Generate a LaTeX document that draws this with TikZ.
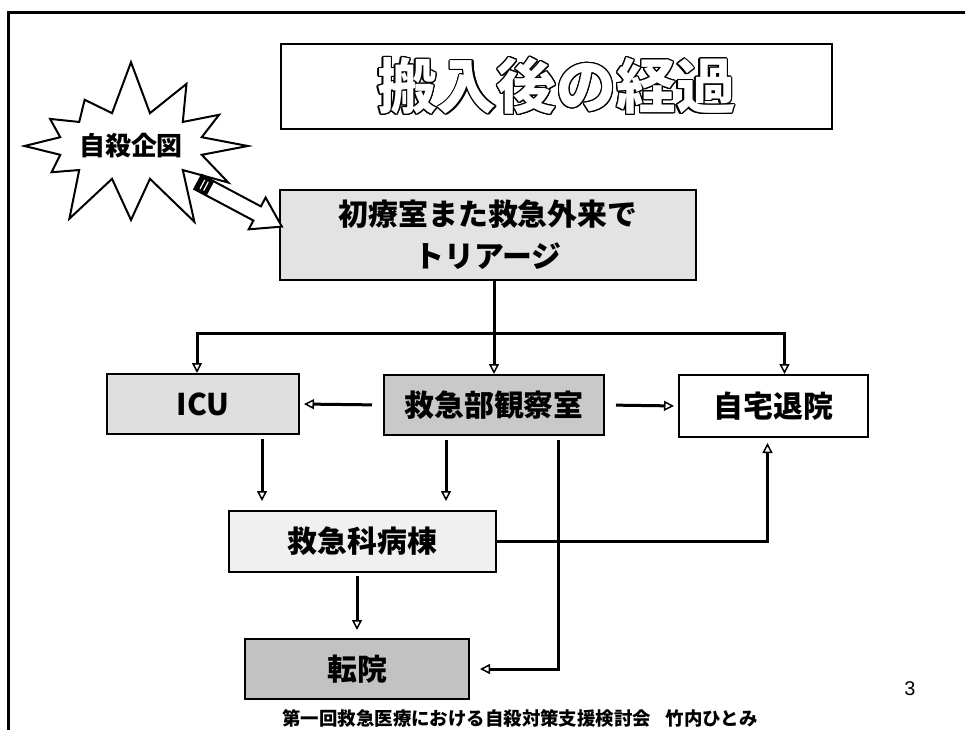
\documentclass[tikz,border=0pt]{standalone}
\usepackage{fontspec}
\setmainfont{Noto Sans CJK JP}
\newfontfamily\numfont{Liberation Sans}
\usepackage{contour}
\contourlength{1.2pt}
\usetikzlibrary{arrows.meta,shapes.symbols,positioning}
\tikzset{
  box/.style={draw, line width=2bp, inner sep=0pt,
    font=\bfseries\fontsize{30}{36}\selectfont},
  flow/.style={line width=3bp,
    -{Triangle[open, length=10bp, width=10bp, line width=1.5bp]}},
}

\begin{document}
\begin{tikzpicture}[x=1bp, y=-1bp]
  \def\lw{3bp}
  \def\branch{333}
  \useasboundingbox (0,0) rectangle (965,730);

  % Frame
  \draw[line width=\lw] (965,13) -- (8,13) -- (8,730);

  % Title
  \node[box, fill=white, minimum width=551bp, minimum height=85bp,
    font=\bfseries\fontsize{60}{60}\selectfont] (title) at (556.5,86.5)
    {\contour{black}{\textcolor{white}{搬入後の経過}}};

  % Boxes
  \node[box, fill=gray!22, minimum width=416bp, minimum height=90bp,
    align=center, font=\bfseries\fontsize{30}{42}\selectfont] (triage) at (488,235)
    {初療室また救急外来で\\トリアージ};
  \node[box, fill=gray!25, minimum width=192bp, minimum height=60bp] (icu) at (203,404) {ICU};
  \node[box, fill=gray!42, minimum width=220bp, minimum height=60bp] (obs) at (494,405) {救急部観察室};
  \node[box, fill=white, minimum width=189bp, minimum height=62bp] (home) at (773.5,406) {自宅退院};
  \node[box, fill=gray!12, minimum width=267bp, minimum height=61bp] (ward) at (362.5,541.5) {救急科病棟};
  \node[box, fill=gray!48, minimum width=224bp, minimum height=60bp] (transfer) at (357,669) {転院};

  % Burst and fat arrow
  \node[starburst, draw, line width=2bp, fill=white, starburst points=12,
    starburst point height=55bp, random starburst=7, minimum width=218bp,
    minimum height=178bp, inner sep=0pt,
    font=\bfseries\fontsize{26}{30}\selectfont] (burst) at (131,146) {自殺企図};
  \coordinate (tail) at (198,182);
  \begin{scope}[shift={(tail)}, rotate=-28]
    \draw[line width=2bp, fill=white] (0,-8) -- (67,-8) -- (67,-18) -- (95,0)
      -- (67,18) -- (67,8) -- (0,8) -- cycle;
    \fill (0,-8) rectangle (14,8);
    \draw[white, line width=1.2bp] (5,-5) -- (5,5) (9,-5) -- (9,5);
  \end{scope}

  % Connectors
  \coordinate (split) at (obs.north |- 0,\branch);
  \coordinate (icuin) at ([xshift=-6bp]icu.north);
  \coordinate (homein) at ([xshift=11bp]home.north);
  \coordinate (icuout) at ([xshift=59bp]icu.south);
  \coordinate (obsleft) at ([xshift=-48bp]obs.south);
  \coordinate (obsright) at ([xshift=64bp]obs.south);
  \coordinate (homeup) at ([xshift=-6bp]home.south);

  \draw[flow] (obs.north |- triage.south) -- (obs.north);
  \draw[flow] (split) -| (icuin);
  \draw[flow] (split) -| (homein);
  \draw[flow, shorten <=11bp, shorten >=4bp] (obs.west) -- (icu.east);
  \draw[flow, shorten <=11bp, shorten >=4bp] (obs.east) -- (home.west);
  \draw[flow, shorten <=4bp, shorten >=9bp] (icuout) -- (icuout |- ward.north);
  \draw[flow, shorten <=4bp, shorten >=9bp] (obsleft) -- (obsleft |- ward.north);
  \draw[flow, shorten <=4bp, shorten >=10bp] (obsright) |- (transfer.east);
  \draw[flow, shorten >=5bp] (ward.east) -| (homeup);
  \draw[flow, shorten <=3bp, shorten >=8bp] (transfer.north |- ward.south) -- (transfer.north);

  % Footer
  \node[font=\bfseries\fontsize{18.5}{20}\selectfont] (footer) at (520,718)
    {第一回救急医療における自殺対策支援検討会\hspace{0.8em}竹内ひとみ};
  \node[font=\numfont\fontsize{20}{24}\selectfont] (pagenum) at (910,689) {3};
\end{tikzpicture}
\end{document}
